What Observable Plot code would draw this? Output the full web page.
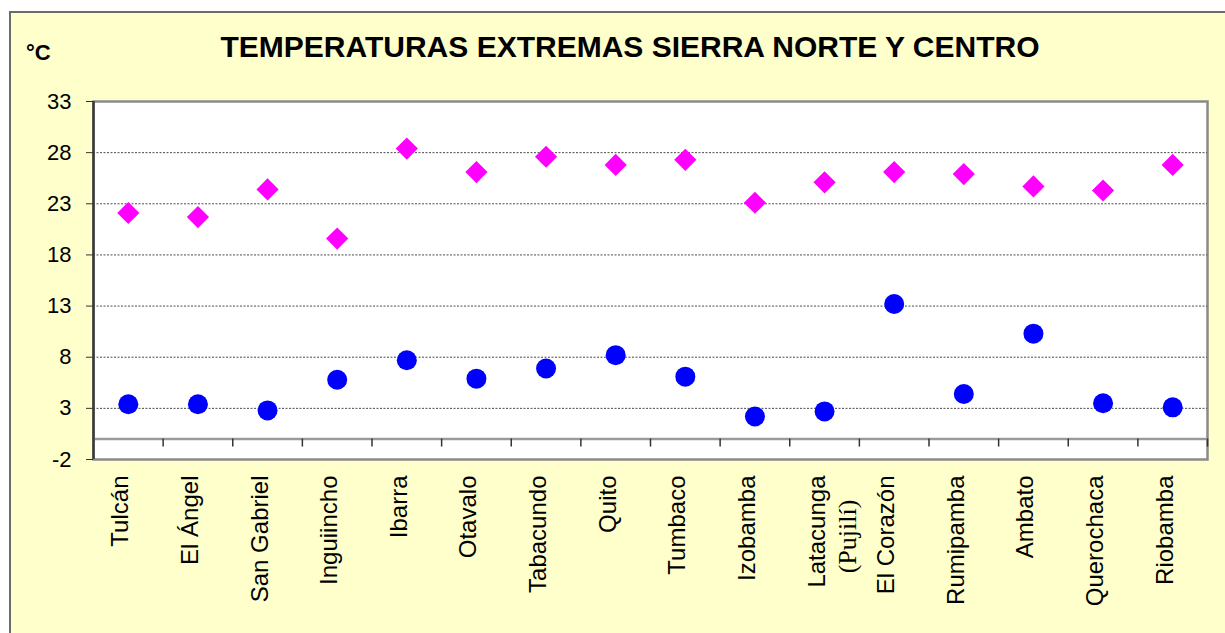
<!DOCTYPE html>
<html>
<head>
<meta charset="utf-8">
<script src="https://cdn.jsdelivr.net/npm/d3@7"></script>
<script src="https://cdn.jsdelivr.net/npm/@observablehq/plot@0.6"></script>
<style>
  html, body { margin: 0; padding: 0; background: #ffffff; }
  body { width: 1225px; height: 633px; overflow: hidden; position: relative; font-family: "Liberation Sans", Arial, sans-serif; }
  #panel { position: absolute; left: 9px; top: 11px; width: 1240px; height: 640px; border: 2px solid #6b6b6b; background: #ffffcc; }
  #chart { position: absolute; left: 0; top: 0; }
  #title { position: absolute; left: 630px; top: 32px; transform: translateX(-50%); font-size: 30px; line-height: 30px; font-weight: bold; white-space: nowrap; color: #000; }
  #unit { position: absolute; left: 26px; top: 42px; font-size: 22px; line-height: 22px; font-weight: bold; color: #000; }
</style>
</head>
<body>
<div id="panel"></div>
<div id="chart"></div>
<div id="title">TEMPERATURAS EXTREMAS SIERRA NORTE Y CENTRO</div>
<div id="unit">°C</div>
<script>
const stations = ["Tulcán", "El Ángel", "San Gabriel", "Inguiincho", "Ibarra", "Otavalo", "Tabacundo", "Quito",
  "Tumbaco", "Izobamba", "Latacunga", "El Corazón", "Rumipamba", "Ambato", "Querochaca", "Riobamba"];
const sublabels = ["", "", "", "", "", "", "", "", "", "", "(Pujilí)", "", "", "", "", ""];
const maxima = [22.1, 21.7, 24.4, 19.6, 28.4, 26.1, 27.6, 26.8, 27.3, 23.1, 25.1, 26.1, 25.9, 24.7, 24.3, 26.8];
const minima = [3.4, 3.4, 2.8, 5.8, 7.7, 5.9, 6.9, 8.2, 6.1, 2.2, 2.7, 13.2, 4.4, 10.3, 3.5, 3.1];
const yTicks = [-2, 3, 8, 13, 18, 23, 28, 33];
const gridValues = yTicks.slice(1, -1);

const n = stations.length;
const pos = (d, i) => i + 0.5;

const chart = Plot.plot({
  width: 1225,
  height: 633,
  marginLeft: 93,
  marginRight: 18,
  marginTop: 101,
  marginBottom: 174,
  style: { background: "transparent", overflow: "visible", fontFamily: "Liberation Sans, Arial, sans-serif" },
  x: { domain: [0, n], axis: null },
  y: { domain: [-2, 33], axis: null },
  marks: [
    Plot.frame({ fill: "white", stroke: "#8a8a8a", strokeWidth: 2.5 }),
    Plot.ruleY(gridValues, { stroke: "#4a4a4a", strokeWidth: 1, strokeDasharray: "2,1.5" }),
    Plot.ruleY([0], { stroke: "#9a9a9a", strokeWidth: 2.5 }),
    Plot.ruleX(d3.range(1, n + 1), { y1: 0, y2: 0, insetBottom: -8, stroke: "#333", strokeWidth: 1.5 }),
    Plot.ruleX([0], { stroke: "#3a3a3a", strokeWidth: 2.5 }),
    Plot.axisY({ ticks: yTicks, tickSize: 7, tickPadding: 15, fontSize: 22, color: "#000", stroke: "#333", tickFormat: d => String(d) }),
    Plot.dot(stations, { x: pos, y: (d, i) => maxima[i], symbol: "diamond2", r: 10, fill: "#ff00ff", stroke: "none" }),
    Plot.dot(stations, { x: pos, y: (d, i) => minima[i], symbol: "circle", r: 10, fill: "#0000ff", stroke: "none" }),
    Plot.text(stations, { x: pos, text: d => d, frameAnchor: "bottom", rotate: -90, textAnchor: "end", dy: 16, fontSize: 24, fill: "#000" }),
    Plot.text(stations, { filter: (d, i) => sublabels[i], x: pos, text: (d, i) => sublabels[i], frameAnchor: "bottom", rotate: -90, textAnchor: "middle", dy: 77, dx: 31, fontSize: 26, fontFamily: "Liberation Serif, Times New Roman, serif", fill: "#000" })
  ]
});
document.getElementById("chart").appendChild(chart);
</script>
</body>
</html>
